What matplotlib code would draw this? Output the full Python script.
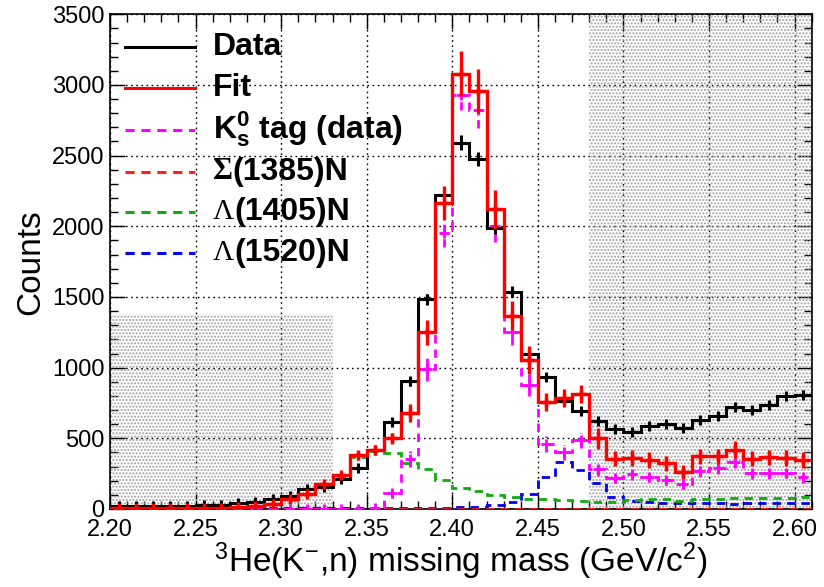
import matplotlib.pyplot as plt
import numpy as np
from matplotlib.patches import Rectangle
from matplotlib.ticker import MultipleLocator

plt.rcParams['font.family'] = ['Liberation Sans', 'DejaVu Sans']
plt.rcParams['mathtext.fontset'] = 'custom'
plt.rcParams['mathtext.rm'] = 'Liberation Sans'
plt.rcParams['mathtext.bf'] = 'Liberation Sans:bold'
plt.rcParams['mathtext.it'] = 'Liberation Sans:italic'

# binning: 41 bins of 0.01 GeV/c2 starting at 2.20
bin_lo = 2.20
bin_w = 0.01

data = [22, 22, 22, 22, 22, 25, 30, 40, 50, 68, 92, 138, 155, 213, 293, 414, 613, 902, 1483, 2218,
        2592, 2474, 1990, 1537, 1095, 933, 766, 693, 625, 566, 547, 588, 601, 571, 630, 660, 718, 700,
        738, 797, 808]
data_err = [5, 5, 5, 5, 5, 5, 6, 6, 7, 8, 10, 12, 12, 15, 17, 20, 25, 30, 39, 47,
            51, 50, 45, 39, 33, 31, 28, 26, 25, 24, 23, 24, 25, 24, 25, 26, 27, 26, 27, 28, 28]

fit = [8, 8, 8, 8, 8, 8, 8, 12, 18, 33, 68, 108, 180, 242, 380, 418, 500, 678, 1250, 2163,
       3080, 2957, 2121, 1368, 1055, 755, 783, 814, 500, 354, 360, 347, 323, 262, 372, 372, 420, 355,
       365, 362, 345]
fit_err = [3, 3, 3, 3, 3, 3, 3, 4, 5, 8, 12, 15, 18, 20, 30, 28, 40, 62, 88, 120,
           160, 157, 138, 100, 97, 65, 65, 65, 73, 53, 55, 55, 52, 50, 55, 55, 58, 52, 55, 55, 55]

k0s = [0, 0, 0, 0, 0, 0, 0, 0, 0, 0, 0, 0, 0, 0, 0, 10, 110, 355, 990, 1955,
       2930, 2825, 2000, 1250, 877, 460, 400, 485, 280, 222, 245, 228, 206, 180, 272, 290, 335, 255,
       255, 258, 223]
k0s_err = [0, 0, 0, 0, 0, 0, 0, 0, 0, 0, 0, 0, 0, 0, 0, 5, 30, 55, 88, 100,
           110, 130, 110, 90, 75, 55, 52, 55, 45, 40, 42, 40, 38, 36, 44, 45, 48, 42, 42, 42, 40]

sig1385 = [2, 2, 2, 2, 2, 2, 2, 2, 2, 2, 2, 2, 2, 2, 2, 2, 2, 2, 2, 2,
           2, 2, 2, 2, 2, 2, 2, 2, 2, 2, 2, 2, 2, 2, 2, 2, 2, 2, 2, 2, 2]

lam1405 = [3, 4, 5, 6, 7, 8, 8, 12, 18, 32, 65, 103, 172, 235, 370, 412, 398, 323, 281, 208,
           145, 125, 100, 88, 73, 72, 64, 55, 48, 52, 62, 73, 70, 55, 68, 70, 75, 76, 80, 80, 87]

lam1520 = [5, 5, 5, 5, 5, 5, 5, 5, 5, 5, 5, 5, 5, 5, 5, 5, 5, 5, 5, 5,
           12, 15, 25, 50, 105, 229, 330, 276, 182, 85, 60, 52, 45, 45, 40, 40, 35, 40, 40, 40, 40]

n = len(data)
edges = bin_lo + bin_w * np.arange(n + 1)
centers = edges[:-1] + bin_w / 2

fig = plt.figure(figsize=(8.24, 5.87), dpi=100)
ax = fig.add_axes([0.1335, 0.1329, 0.8516, 0.8428])
ax.set_xlim(2.20, 2.61)
ax.set_ylim(0, 3500)

# grey dotted regions
for x0, x1, ytop in [(2.20, 2.33, 1380), (2.48, 2.61, 3500)]:
    ax.add_patch(Rectangle((x0, 0), x1 - x0, ytop, facecolor='none', edgecolor='#a0a0a0',
                           hatch='.....', linewidth=0, zorder=1))

ax.grid(True, which='major', ls=(0, (1.2, 2.5)), color='black', lw=1.0, zorder=0)
ax.set_axisbelow(True)


def hist(vals, color, ls='-', lw=2.2, err=None, marker=True, z=3):
    ax.stairs(vals, edges, color=color, ls=ls, lw=lw, zorder=z, baseline=None)
    if err is not None:
        eb = ax.errorbar(centers, vals, yerr=err, fmt='none', ecolor=color, elinewidth=lw, zorder=z)
        if ls != '-':
            eb[2][0].set_linestyle(ls)
    if marker:
        ax.plot(centers, vals, '+', color=color, ms=7.5, mew=lw, zorder=z)


dash = (0, (3.0, 2.2))
hist(lam1520, '#0000ee', ls=dash, lw=2.0, marker=False)
hist(lam1405, '#11aa11', ls=dash, lw=2.0, marker=False)
hist(sig1385, '#ff2020', ls=dash, lw=2.0, marker=False)
hist(k0s, '#ff00ff', ls=dash, lw=2.0, err=k0s_err)
hist(data, 'black', lw=2.2, err=data_err, z=4)
hist(fit, '#ff0000', lw=2.4, err=fit_err, z=5)

ax.xaxis.set_major_locator(MultipleLocator(0.05))
ax.xaxis.set_minor_locator(MultipleLocator(0.01))
ax.yaxis.set_major_locator(MultipleLocator(500))
ax.yaxis.set_minor_locator(MultipleLocator(100))
ax.xaxis.set_major_formatter(plt.FuncFormatter(lambda v, p: '%.2f' % v))
ax.tick_params(which='both', direction='in', top=True, right=True, labelsize=17, width=1.0)
ax.tick_params(which='major', length=11)
ax.tick_params(axis='x', which='major', pad=7)
ax.tick_params(axis='y', which='major', pad=4)
ax.tick_params(which='minor', length=6)
for s in ax.spines.values():
    s.set_linewidth(1.2)

ax.set_xlabel(r'$^{3}$He(K$^{-}$,n) missing mass (GeV/c$^{2}$)', fontsize=24, labelpad=0)
ax.set_ylabel('Counts', fontsize=24, labelpad=4)

# legend drawn by hand (ROOT style, no frame)
leg = [('black', '-', 0.934),
       ('#ff0000', '-', 0.850),
       ('#ff00ff', dash, 0.767),
       ('#ff2020', dash, 0.682),
       ('#11aa11', dash, 0.601),
       ('#0000ee', dash, 0.517)]
for color, ls, yy in leg:
    ax.plot([0.021, 0.121], [yy, yy], color=color, ls=ls, lw=2.2, transform=ax.transAxes, zorder=6)
tx = 0.147
fs = 23
ax.text(tx, 0.934, 'Data', transform=ax.transAxes, fontsize=fs, fontweight='bold', va='center')
ax.text(tx, 0.850, 'Fit', transform=ax.transAxes, fontsize=fs, fontweight='bold', va='center')
ax.text(tx, 0.767, r'$\mathbf{K}^{\mathbf{0}}_{\mathbf{s}}$ tag (data)', transform=ax.transAxes,
        fontsize=fs, fontweight='bold', va='center')
for greek, rest, yy, wt, gs, off in [('\u03a3', '(1385)N', 0.682, 'bold', 22, 0.028),
                                     ('\u039b', '(1405)N', 0.601, 'normal', 21, 0.030),
                                     ('\u039b', '(1520)N', 0.517, 'normal', 21, 0.030)]:
    ax.text(tx, yy, greek, transform=ax.transAxes, fontsize=gs, family='Liberation Serif',
            fontweight=wt, va='center')
    ax.text(tx + off, yy, rest, transform=ax.transAxes, fontsize=fs, fontweight='bold', va='center')

fig.savefig('out.png', dpi=100)
